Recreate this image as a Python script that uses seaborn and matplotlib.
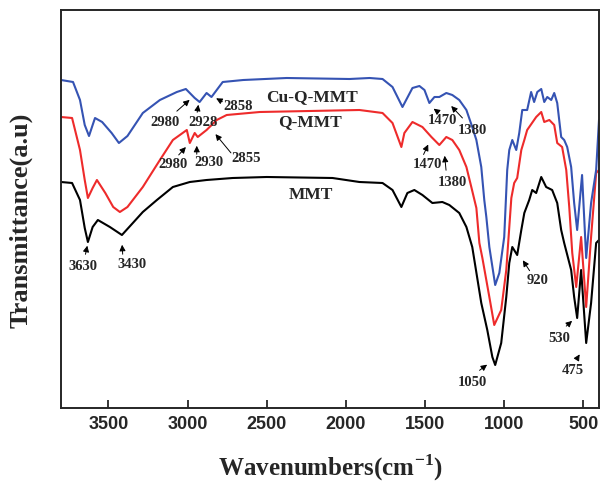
import matplotlib
matplotlib.use("Agg")
import matplotlib.pyplot as plt
import seaborn as sns
import pandas as pd

# 스펙트럼 값 (그림에서 읽은 값, 투과율은 임의 단위)
wn_cu = [3800, 3724, 3680, 3650, 3623, 3600, 3585, 3540, 3480, 3434, 3380, 3283, 3175, 3068,
         3011, 2955, 2924, 2880, 2849, 2778, 2648, 2374, 1977, 1850, 1768, 1705, 1642, 1579,
         1535, 1503, 1472, 1440, 1409, 1365, 1327, 1283, 1238, 1201, 1175, 1144, 1125, 1112,
         1093, 1056, 1030, 999, 980, 967, 948, 923, 904, 885, 854, 829, 810, 790, 765, 746,
         727, 702, 683, 664, 639, 620, 601, 576, 557, 538, 507, 481, 450, 418, 400]
t_cu = [328, 326, 308, 283, 272, 283, 290, 286, 275, 265, 272, 295, 308, 316,
        319, 310, 306, 315, 311, 326, 328, 330, 329, 330, 329, 321, 301, 320,
        322, 318, 305, 311, 311, 315, 313, 308, 298, 281, 268, 241, 208, 191,
        161, 123, 135, 171, 238, 258, 268, 258, 275, 298, 298, 316, 306, 316, 319, 306,
        311, 308, 315, 305, 271, 268, 261, 241, 205, 178, 233, 150, 205, 238, 288]

wn_q = [3800, 3730, 3680, 3650, 3630, 3600, 3573, 3520, 3470, 3428, 3380, 3283, 3175, 3093,
        3005, 2986, 2955, 2936, 2880, 2816, 2753, 2544, 1914, 1768, 1705, 1649, 1630, 1579,
        1516, 1459, 1409, 1365, 1327, 1283, 1238, 1207, 1175, 1156, 1137, 1093, 1062, 1018,
        986, 954, 936, 917, 891, 872, 854, 797, 765, 746, 714, 683, 664, 633, 607, 588,
        569, 544, 513, 481, 450, 418, 400]
t_q = [291, 290, 258, 228, 210, 220, 228, 215, 201, 196, 201, 221, 248, 268,
       278, 265, 275, 271, 278, 288, 293, 296, 298, 295, 285, 261, 275, 286,
       281, 271, 263, 271, 268, 258, 241, 221, 200, 165, 150, 111, 83, 98,
       138, 210, 225, 230, 258, 268, 278, 291, 296, 286, 288, 283, 265, 261, 238, 201,
       155, 121, 171, 101, 171, 235, 238]

wn_mmt = [3800, 3730, 3680, 3650, 3630, 3600, 3567, 3491, 3415, 3346, 3283, 3194, 3093, 2986,
          2880, 2715, 2500, 2084, 1914, 1768, 1705, 1649, 1611, 1567, 1516, 1453, 1390, 1346,
          1283, 1238, 1201, 1144, 1106, 1074, 1056, 1018, 986, 967, 948, 917, 891, 872,
          841, 822, 797, 765, 734, 696, 664, 639, 620, 576, 557, 538, 513, 481, 450, 418, 400]
t_mmt = [226, 225, 208, 180, 166, 181, 188, 181, 173, 185, 196, 208, 221, 226,
         228, 230, 231, 230, 226, 225, 218, 201, 215, 218, 213, 205, 206, 203,
         195, 181, 161, 105, 78, 51, 43, 65, 111, 145, 161, 153, 178, 195,
         208, 218, 215, 231, 221, 218, 205, 178, 165, 138, 111, 90, 138, 65, 105, 165, 168]

x_ticks = [3500, 3000, 2500, 2000, 1500, 1000, 500]

# 곡선 이름표: (텍스트, 파수, 투과율)
curve_labels = [("Cu-Q-MMT", 2216, 311), ("Q-MMT", 2229, 286), ("MMT", 2223, 213)]

# 피크 표시: (텍스트, 글자 위치, 화살표 시작, 화살표 끝)
peak_marks = [
    ("2980", (3144, 286), (3081, 295), (2974, 310)),
    ("2928", (2904, 286), (2942, 293), (2929, 306)),
    ("2858", (2683, 302), (2765, 305), (2835, 311)),
    ("2980", (3093, 243), (3068, 251), (2999, 263)),
    ("2930", (2866, 245), (2942, 251), (2942, 265)),
    ("2855", (2633, 249), (2715, 253), (2835, 276)),
    ("1470", (1390, 288), (1409, 295), (1459, 301)),
    ("1380", (1201, 278), (1251, 288), (1346, 304)),
    ("1470", (1485, 244), (1516, 251), (1472, 266)),
    ("1380", (1327, 225), (1365, 235), (1377, 255)),
    ("3630", (3661, 141), (3649, 151), (3630, 165)),
    ("3430", (3352, 143), (3409, 151), (3415, 166)),
    ("1050", (1201, 25), (1169, 36), (1093, 45)),
    ("920", (791, 127), (829, 135), (891, 150)),
    ("530", (652, 70), (620, 80), (557, 89)),
    ("475", (563, 38), (544, 48), (513, 56)),
]

sns.set_style("ticks")
plt.rcParams['font.family'] = ['Liberation Serif', 'DejaVu Serif']
plt.rcParams['font.weight'] = 'bold'
plt.rcParams['mathtext.fontset'] = 'custom'
plt.rcParams['mathtext.rm'] = 'Liberation Serif:bold'
plt.rcParams['mathtext.bf'] = 'Liberation Serif:bold'

fig = plt.figure(figsize=(6.01, 4.90), dpi=100)
ax = fig.add_axes([61 / 601, 82 / 490, 538 / 601, 398 / 490])

series = [(wn_mmt, t_mmt, "black"), (wn_q, t_q, "#ee2b2b"), (wn_cu, t_cu, "#3553b3")]
for wn, t, c in series:
    df = pd.DataFrame({"wn": wn, "t": t})
    sns.lineplot(data=df, x="wn", y="t", ax=ax, color=c, lw=1.5, sort=False, estimator=None)

for txt, x, y in curve_labels:
    ax.text(x, y, txt, ha="center", va="center", fontsize=12.5, fontweight="bold")

for txt, tpos, tail, head in peak_marks:
    ax.text(tpos[0], tpos[1], txt, ha="center", va="center", fontsize=10.5, fontweight="bold")
    ax.annotate("", xy=head, xytext=tail,
                arrowprops=dict(arrowstyle="-|>", color="black", lw=0.7, mutation_scale=9))

ax.set_xlim(3800, 400)
ax.set_ylim(0, 398)
ax.set_xticks(x_ticks)
ax.set_xticklabels([str(v) for v in x_ticks], family="Liberation Sans", fontsize=13, fontweight="bold")
ax.set_yticks([])
ax.tick_params(axis="x", direction="in", length=6, width=1.3, pad=6)
for sp in ax.spines.values():
    sp.set_linewidth(1.4)
    sp.set_visible(True)

ax.set_xlabel("Wavenumbers(cm$^{-1}$)", fontsize=18, fontweight="bold", labelpad=14)
ax.set_ylabel("Transmittance(a.u)", fontsize=19, fontweight="bold")
ax.yaxis.set_label_coords(-0.052, 0.472)

fig.savefig("out.png", dpi=100)
